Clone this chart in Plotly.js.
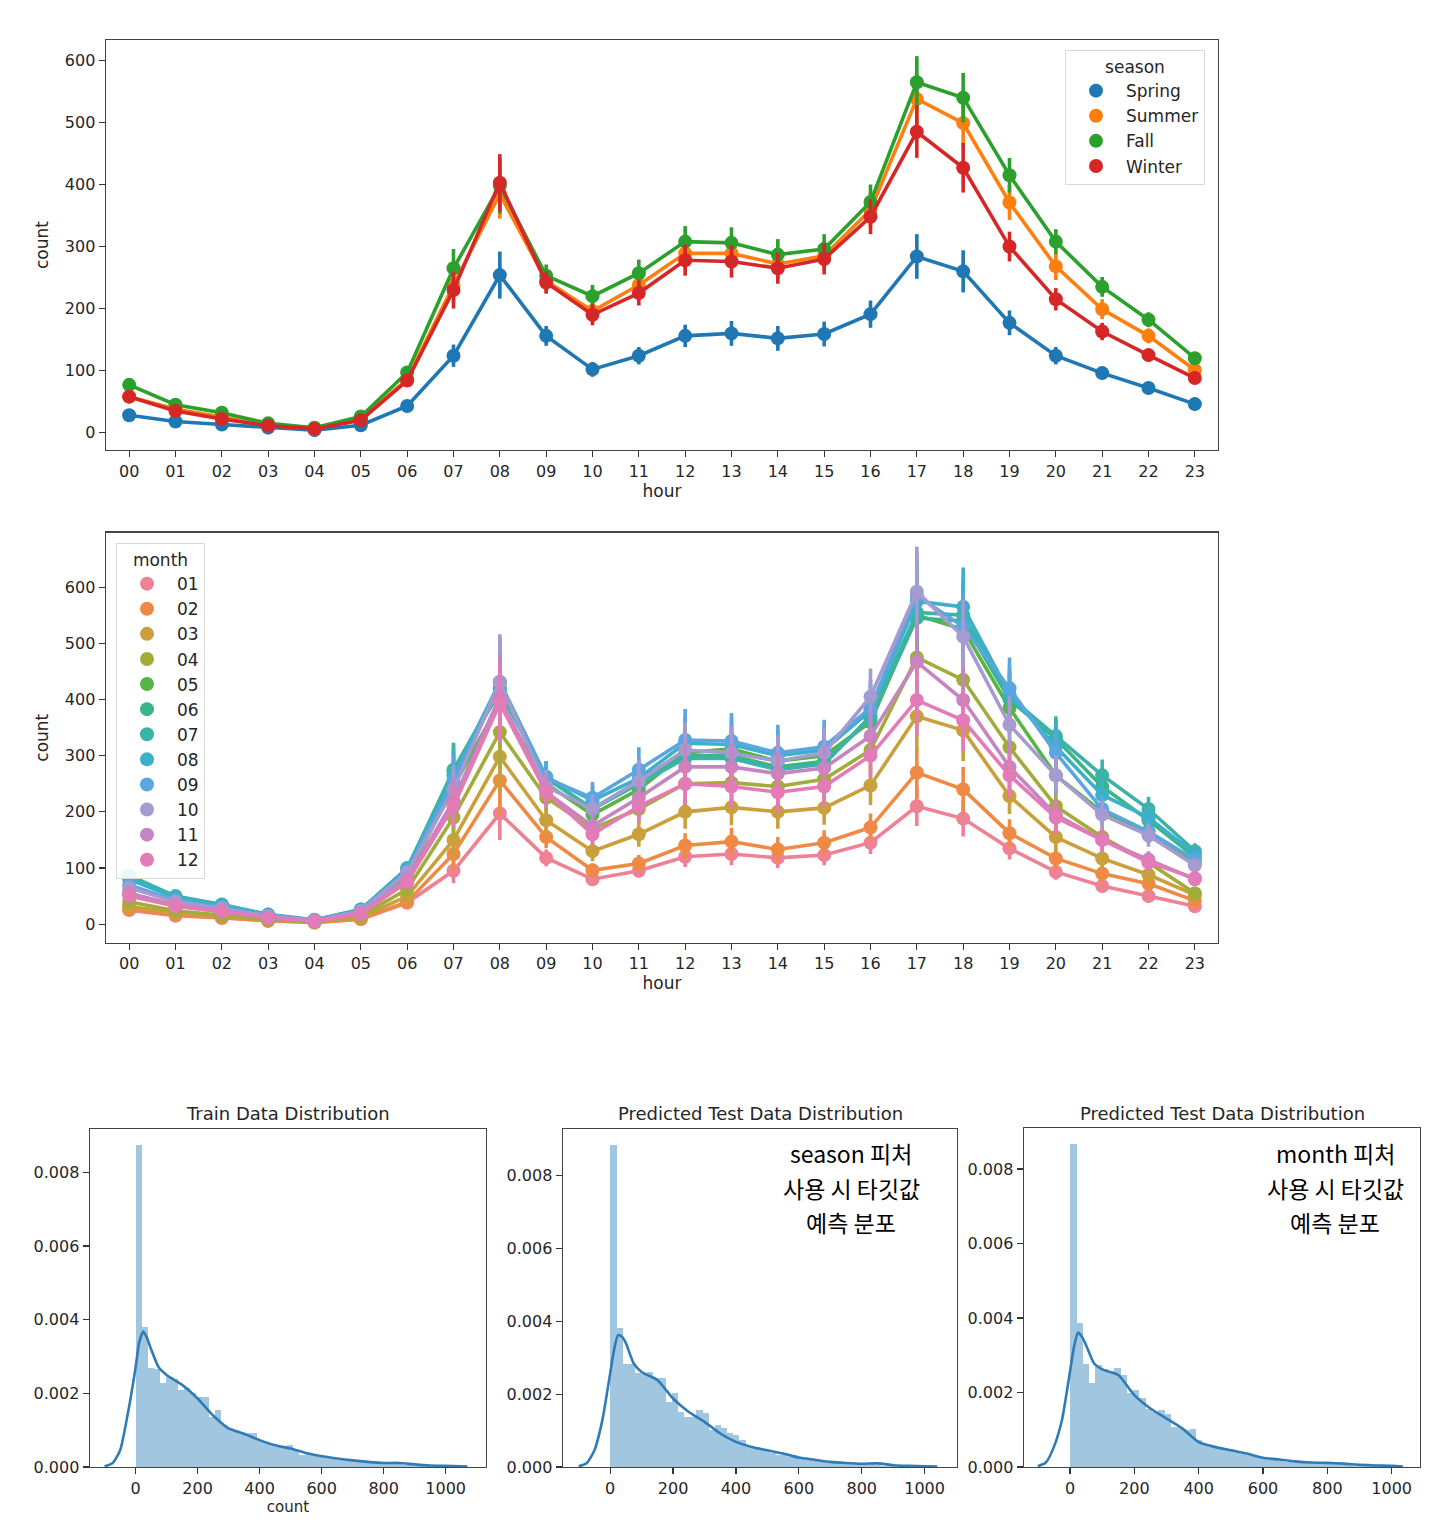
<!DOCTYPE html>
<html>
<head>
<meta charset="utf-8">
<script src="https://cdn.plot.ly/plotly-3.0.1.min.js"></script>
<style>html,body{margin:0;padding:0;background:#fff;}#chart{width:1450px;height:1522px;}</style>
</head>
<body>
<div id="chart"></div>
<script>
// ---------- DATA ----------
const hours = ['00','01','02','03','04','05','06','07','08','09','10','11','12','13','14','15','16','17','18','19','20','21','22','23'];

const seasonNames = ['Spring','Summer','Fall','Winter'];
const springCount = [28,18,13,8,4,12,43,124,254,156,102,124,156,160,152,159,191,284,260,177,124,96,72,46];
const summerCount = [58,38,25,12,6,22,86,238,385,245,196,238,289,289,272,285,359,538,499,371,268,199,156,101];
const fallCount   = [77,45,32,15,8,26,97,265,398,253,220,257,308,306,287,296,372,565,540,415,308,235,182,120];
const winterCount = [58,35,22,11,6,20,84,230,403,242,190,225,278,276,265,280,348,485,427,300,215,163,125,88];
const springErr = [4,3,2,2,1,2,6,18,38,16,12,14,18,20,20,20,22,36,34,20,14,10,7,5];
const summerErr = [6,4,3,2,1,3,10,28,40,20,18,22,25,25,25,24,28,40,38,28,22,16,12,8];
const fallErr   = [7,5,3,2,1,3,10,31,45,18,18,22,25,25,25,24,28,42,40,28,20,16,12,9];
const winterErr = [6,4,3,2,1,3,10,30,46,18,17,20,25,26,25,25,28,42,40,24,18,14,10,8];

const monthNames = ['01','02','03','04','05','06','07','08','09','10','11','12'];
const m01 = [25,15,11,6,3,9,38,95,197,118,80,95,120,125,118,123,145,210,188,135,93,68,50,32];
const m02 = [27,17,12,6,3,9,40,125,256,155,96,108,140,147,133,145,172,270,240,162,117,90,72,42];
const m03 = [32,20,14,7,4,12,50,150,298,185,130,160,200,208,200,207,247,370,345,228,155,117,88,52];
const m04 = [40,24,16,8,4,15,62,190,342,225,170,205,250,252,245,258,310,475,435,315,210,155,110,55];
const m05 = [55,33,22,11,5,20,85,245,395,250,195,240,305,312,290,300,360,550,525,385,265,200,165,110];
const m06 = [85,48,33,16,7,25,98,275,420,262,205,255,300,300,280,290,365,545,540,400,330,245,185,120];
const m07 = [87,50,35,17,7,26,100,272,415,260,205,250,295,295,275,285,370,555,550,405,335,265,205,130];
const m08 = [80,47,34,17,8,26,98,265,431,262,220,260,322,320,300,310,380,575,565,410,316,230,190,125];
const m09 = [70,42,30,15,7,24,95,255,431,260,225,275,328,326,305,316,385,585,530,420,305,205,165,115];
const m10 = [65,40,28,14,7,23,92,240,431,245,205,255,310,305,290,305,405,592,512,355,265,195,158,105];
const m11 = [55,34,24,12,6,20,80,220,405,235,175,225,280,280,268,278,335,467,399,280,195,150,115,80];
const m12 = [50,32,22,11,5,18,75,210,393,235,160,210,250,245,235,245,300,399,363,265,190,150,110,82];
const e01 = [4,3,2,2,1,2,7,22,47,15,10,12,18,20,18,18,20,35,32,20,14,10,8,6];
const e02 = [4,3,2,2,1,2,7,28,60,20,12,15,22,24,22,22,25,45,40,25,18,14,10,7];
const e03 = [5,3,3,2,1,3,9,30,62,22,18,22,30,32,30,30,35,60,55,32,22,16,12,8];
const e04 = [6,4,3,2,1,3,10,35,65,25,20,25,35,38,35,35,40,65,60,40,28,20,15,9];
const e05 = [8,5,4,2,1,4,12,42,70,27,22,30,40,42,40,40,45,70,65,45,32,25,20,14];
const e06 = [10,6,4,2,1,4,12,48,72,28,22,32,42,42,40,40,45,70,65,45,35,28,22,14];
const e07 = [10,6,4,2,1,4,12,48,72,28,22,32,42,42,40,40,45,70,65,45,35,28,22,14];
const e08 = [10,6,4,2,1,4,12,45,75,28,25,35,50,48,45,45,48,75,70,50,40,28,22,14];
const e09 = [9,6,4,2,1,4,12,45,80,30,28,40,55,50,50,48,50,78,60,55,38,25,20,13];
const e10 = [8,5,4,2,1,4,12,42,85,30,25,38,50,48,46,46,50,80,65,50,35,25,20,12];
const e11 = [7,4,3,2,1,3,10,40,75,28,22,30,42,42,40,40,45,70,60,42,28,20,15,10];
const e12 = [6,4,3,2,1,3,10,38,70,28,20,28,38,38,36,36,40,65,55,40,28,20,15,10];

// histogram densities (50 bins starting at count 1, width 19.52)
const histStart = 1;
const histBinWidth = 19.52;
const trainDensity = [0.00875,0.00379,0.00268,0.00265,0.00229,0.00245,0.00238,0.00209,0.00214,0.00200,
  0.00191,0.00191,0.00136,0.00155,0.00114,0.00105,0.00100,0.00095,0.00091,0.00091,
  0.00073,0.00068,0.00059,0.00055,0.00053,0.00059,0.00045,0.00032,0.00036,0.00032,
  0.00027,0.00025,0.00023,0.00020,0.00018,0.00016,0.00014,0.00013,0.00012,0.00011,
  0.00011,0.00010,0.00009,0.00007,0.00006,0.00005,0.00004,0.00004,0.00003,0.00002];
const seasonPredDensity = [0.00883,0.00383,0.00283,0.00283,0.00257,0.00255,0.00261,0.00243,0.00243,0.00179,
  0.00204,0.00151,0.00138,0.00138,0.00156,0.00147,0.00101,0.00115,0.00106,0.00092,
  0.00087,0.00073,0.00055,0.00050,0.00050,0.00046,0.00038,0.00032,0.00035,0.00028,
  0.00025,0.00022,0.00019,0.00017,0.00014,0.00012,0.00011,0.00010,0.00009,0.00009,
  0.00010,0.00009,0.00007,0.00005,0.00004,0.00004,0.00003,0.00002,0.00002,0.00001];
const monthPredDensity = [0.00866,0.00386,0.00276,0.00226,0.00275,0.00262,0.00258,0.00265,0.00247,0.00199,
  0.00206,0.00184,0.00157,0.00148,0.00152,0.00143,0.00108,0.00108,0.00099,0.00103,
  0.00072,0.00063,0.00054,0.00051,0.00051,0.00049,0.00041,0.00034,0.00031,0.00029,
  0.00024,0.00021,0.00018,0.00016,0.00014,0.00013,0.00012,0.00011,0.00011,0.00010,
  0.00009,0.00008,0.00007,0.00006,0.00005,0.00004,0.00003,0.00003,0.00002,0.00001];

// KDE curves
const trainKdeX = [-100,-75,-50,-25,0,12,25,37,50,75,100,150,200,250,300,350,400,450,500,550,600,650,700,750,800,850,900,950,1000,1070];
const trainKdeY = [0.00002,0.0001,0.00045,0.00145,0.0027,0.0034,0.00368,0.0035,0.0032,0.0027,0.0025,0.00223,0.00186,0.0014,0.00105,0.0009,0.00073,0.00059,0.0005,0.00038,0.00029,0.00023,0.00018,0.00014,0.00011,0.00011,0.00007,0.00004,0.00003,0.00001];
const seasonKdeX = [-100,-75,-50,-25,0,12,25,37,50,75,100,150,200,250,300,350,400,450,500,550,600,650,700,750,800,850,900,950,1000,1040];
const seasonKdeY = [0.00002,0.0001,0.00046,0.00128,0.00257,0.0032,0.00362,0.00358,0.0034,0.00284,0.00261,0.00239,0.00188,0.00151,0.00124,0.00092,0.00069,0.00055,0.00046,0.00037,0.00026,0.0002,0.00014,0.00011,0.00009,0.0001,0.00005,0.00003,0.00002,0.00001];
const monthKdeX = [-100,-75,-50,-25,0,12,25,37,50,75,100,150,200,250,300,350,400,450,500,550,600,650,700,750,800,850,900,950,1000,1035];
const monthKdeY = [0.00002,0.00012,0.00054,0.00126,0.00256,0.0032,0.00361,0.0035,0.00327,0.00278,0.00262,0.00247,0.00193,0.00157,0.0013,0.00103,0.00067,0.00054,0.00045,0.00036,0.00025,0.0002,0.00015,0.00012,0.00011,0.00009,0.00006,0.00004,0.00003,0.00001];

const histTitles = ['Train Data Distribution','Predicted Test Data Distribution','Predicted Test Data Distribution'];
const noteSeason = ['season 피처','사용 시 타깃값','예측 분포'];
const noteMonth = ['month 피처','사용 시 타깃값','예측 분포'];

// ---------- STYLE ----------
const W = 1450, H = 1522;
const px = p => p / W;
const py = p => 1 - p / H;
const FONT = 'DejaVu Sans, sans-serif';
const seasonColors = ['#1f77b4','#ff7f0e','#2ca02c','#d62728'];
const monthColors = ['#ee8294','#ef8a45','#c9a03c','#a3ab3a','#58b544','#3db487','#3cb3a8','#3bb0c8','#5aa6e0','#a69bd0','#c485c2','#e37bb6'];
const tickFont = {family: FONT, size: 16, color: '#262626'};
const titleFont = {family: FONT, size: 17, color: '#262626'};
const legendFont = {family: FONT, size: 17, color: '#262626'};

const traces = [];
function addPoint(vals, errs, color, xa, ya) {
  traces.push({
    type: 'scatter', mode: 'lines+markers', x: hours, y: vals,
    xaxis: xa, yaxis: ya, showlegend: false, hoverinfo: 'skip',
    line: {color: color, width: 3.6},
    marker: {color: color, size: 14},
    error_y: {type: 'data', array: errs, symmetric: true, color: color, thickness: 3.6, width: 0}
  });
}
function addLegendItem(name, color, legend) {
  traces.push({type: 'scatter', mode: 'markers', x: [null], y: [null], name: name,
    xaxis: 'x', yaxis: 'y', legend: legend, marker: {color: color, size: 14}, showlegend: true});
}

const seasonVals = [springCount, summerCount, fallCount, winterCount];
const seasonErrs = [springErr, summerErr, fallErr, winterErr];
seasonVals.forEach((v, i) => addPoint(v, seasonErrs[i], seasonColors[i], 'x', 'y'));
const monthVals = [m01,m02,m03,m04,m05,m06,m07,m08,m09,m10,m11,m12];
const monthErrs = [e01,e02,e03,e04,e05,e06,e07,e08,e09,e10,e11,e12];
monthVals.forEach((v, i) => addPoint(v, monthErrs[i], monthColors[i], 'x2', 'y2'));
seasonNames.forEach((n, i) => addLegendItem(n, seasonColors[i], 'legend'));
monthNames.forEach((n, i) => addLegendItem(n, monthColors[i], 'legend2'));

const densities = [trainDensity, seasonPredDensity, monthPredDensity];
const kdeXs = [trainKdeX, seasonKdeX, monthKdeX];
const kdeYs = [trainKdeY, seasonKdeY, monthKdeY];
densities.forEach((d, k) => {
  const xa = 'x' + (k + 3), ya = 'y' + (k + 3);
  traces.push({type: 'bar', x: d.map((_, i) => histStart + histBinWidth * (i + 0.5)), y: d,
    width: histBinWidth, xaxis: xa, yaxis: ya, showlegend: false, hoverinfo: 'skip',
    marker: {color: 'rgba(31,119,180,0.42)', line: {width: 0}}});
  traces.push({type: 'scatter', mode: 'lines', x: kdeXs[k], y: kdeYs[k], xaxis: xa, yaxis: ya,
    showlegend: false, hoverinfo: 'skip', line: {color: '#2f7bb6', width: 2.6, shape: 'spline', smoothing: 0.6}});
});

function axisBase(extra) {
  return Object.assign({
    showline: true, mirror: true, linecolor: '#444', linewidth: 1.4,
    ticks: 'outside', ticklen: 6, tickwidth: 1.3, tickcolor: '#333',
    showgrid: false, zeroline: false, tickfont: tickFont, automargin: false, fixedrange: true
  }, extra);
}

const layout = {
  width: W, height: H, margin: {l: 0, r: 0, t: 0, b: 0},
  paper_bgcolor: '#fff', plot_bgcolor: '#fff', bargap: 0,
  font: {family: FONT},
  xaxis: axisBase({domain: [px(106), px(1218)], anchor: 'y', type: 'category', range: [-0.5, 23.5],
    title: {text: 'hour', font: titleFont, standoff: 4}}),
  yaxis: axisBase({domain: [py(450), py(40)], anchor: 'x', range: [-28, 633], tick0: 0, dtick: 100,
    title: {text: 'count', font: titleFont, standoff: 12}}),
  xaxis2: axisBase({domain: [px(106), px(1218)], anchor: 'y2', type: 'category', range: [-0.5, 23.5],
    title: {text: 'hour', font: titleFont, standoff: 4}}),
  yaxis2: axisBase({domain: [py(942.7), py(532.7)], anchor: 'x2', range: [-33, 697], tick0: 0, dtick: 100,
    title: {text: 'count', font: titleFont, standoff: 12}}),
  xaxis3: axisBase({domain: [px(90), px(486)], anchor: 'y3', range: [-147, 1130], tick0: 0, dtick: 200,
    title: {text: 'count', font: {family: FONT, size: 15, color: '#262626'}, standoff: 4}}),
  yaxis3: axisBase({domain: [py(1467), py(1129)], anchor: 'x3', range: [0, 0.00918], dtick: 0.002, tickformat: '.3f'}),
  xaxis4: axisBase({domain: [px(563), px(957)], anchor: 'y4', range: [-150, 1103], tick0: 0, dtick: 200}),
  yaxis4: axisBase({domain: [py(1467), py(1129)], anchor: 'x4', range: [0, 0.00928], dtick: 0.002, tickformat: '.3f'}),
  xaxis5: axisBase({domain: [px(1024), px(1420)], anchor: 'y5', range: [-143, 1088], tick0: 0, dtick: 200}),
  yaxis5: axisBase({domain: [py(1467), py(1128)], anchor: 'x5', range: [0, 0.0091], dtick: 0.002, tickformat: '.3f'}),
  legend: {x: px(1065), y: py(50), xanchor: 'left', yanchor: 'top', bgcolor: 'rgba(255,255,255,0.9)',
    bordercolor: '#d8d8d8', borderwidth: 1, font: legendFont, itemwidth: 50,
    title: {text: 'season', side: 'top center', font: legendFont}, itemclick: false},
  legend2: {x: px(116), y: py(543), xanchor: 'left', yanchor: 'top', bgcolor: 'rgba(255,255,255,0.9)',
    bordercolor: '#d8d8d8', borderwidth: 1, font: legendFont, itemwidth: 50,
    title: {text: 'month', side: 'top center', font: legendFont}, itemclick: false},
  annotations: []
};

const histCenters = [288, 760, 1222];
histTitles.forEach((t, k) => {
  layout.annotations.push({xref: 'paper', yref: 'paper', x: px(histCenters[k]), y: py(1113), text: t,
    showarrow: false, xanchor: 'center', yanchor: 'middle', font: {family: FONT, size: 18, color: '#262626'}});
});
const noteYs = [1153, 1188, 1222];
[[noteSeason, 851], [noteMonth, 1335]].forEach(([lines, cx]) => {
  lines.forEach((t, i) => {
    layout.annotations.push({xref: 'paper', yref: 'paper', x: px(cx), y: py(noteYs[i]), text: t,
      showarrow: false, xanchor: 'center', yanchor: 'middle',
      font: {family: 'Noto Sans CJK KR, sans-serif', size: 23, color: '#000'}});
  });
});

Plotly.newPlot('chart', traces, layout, {staticPlot: true, displayModeBar: false});
</script>
</body>
</html>
